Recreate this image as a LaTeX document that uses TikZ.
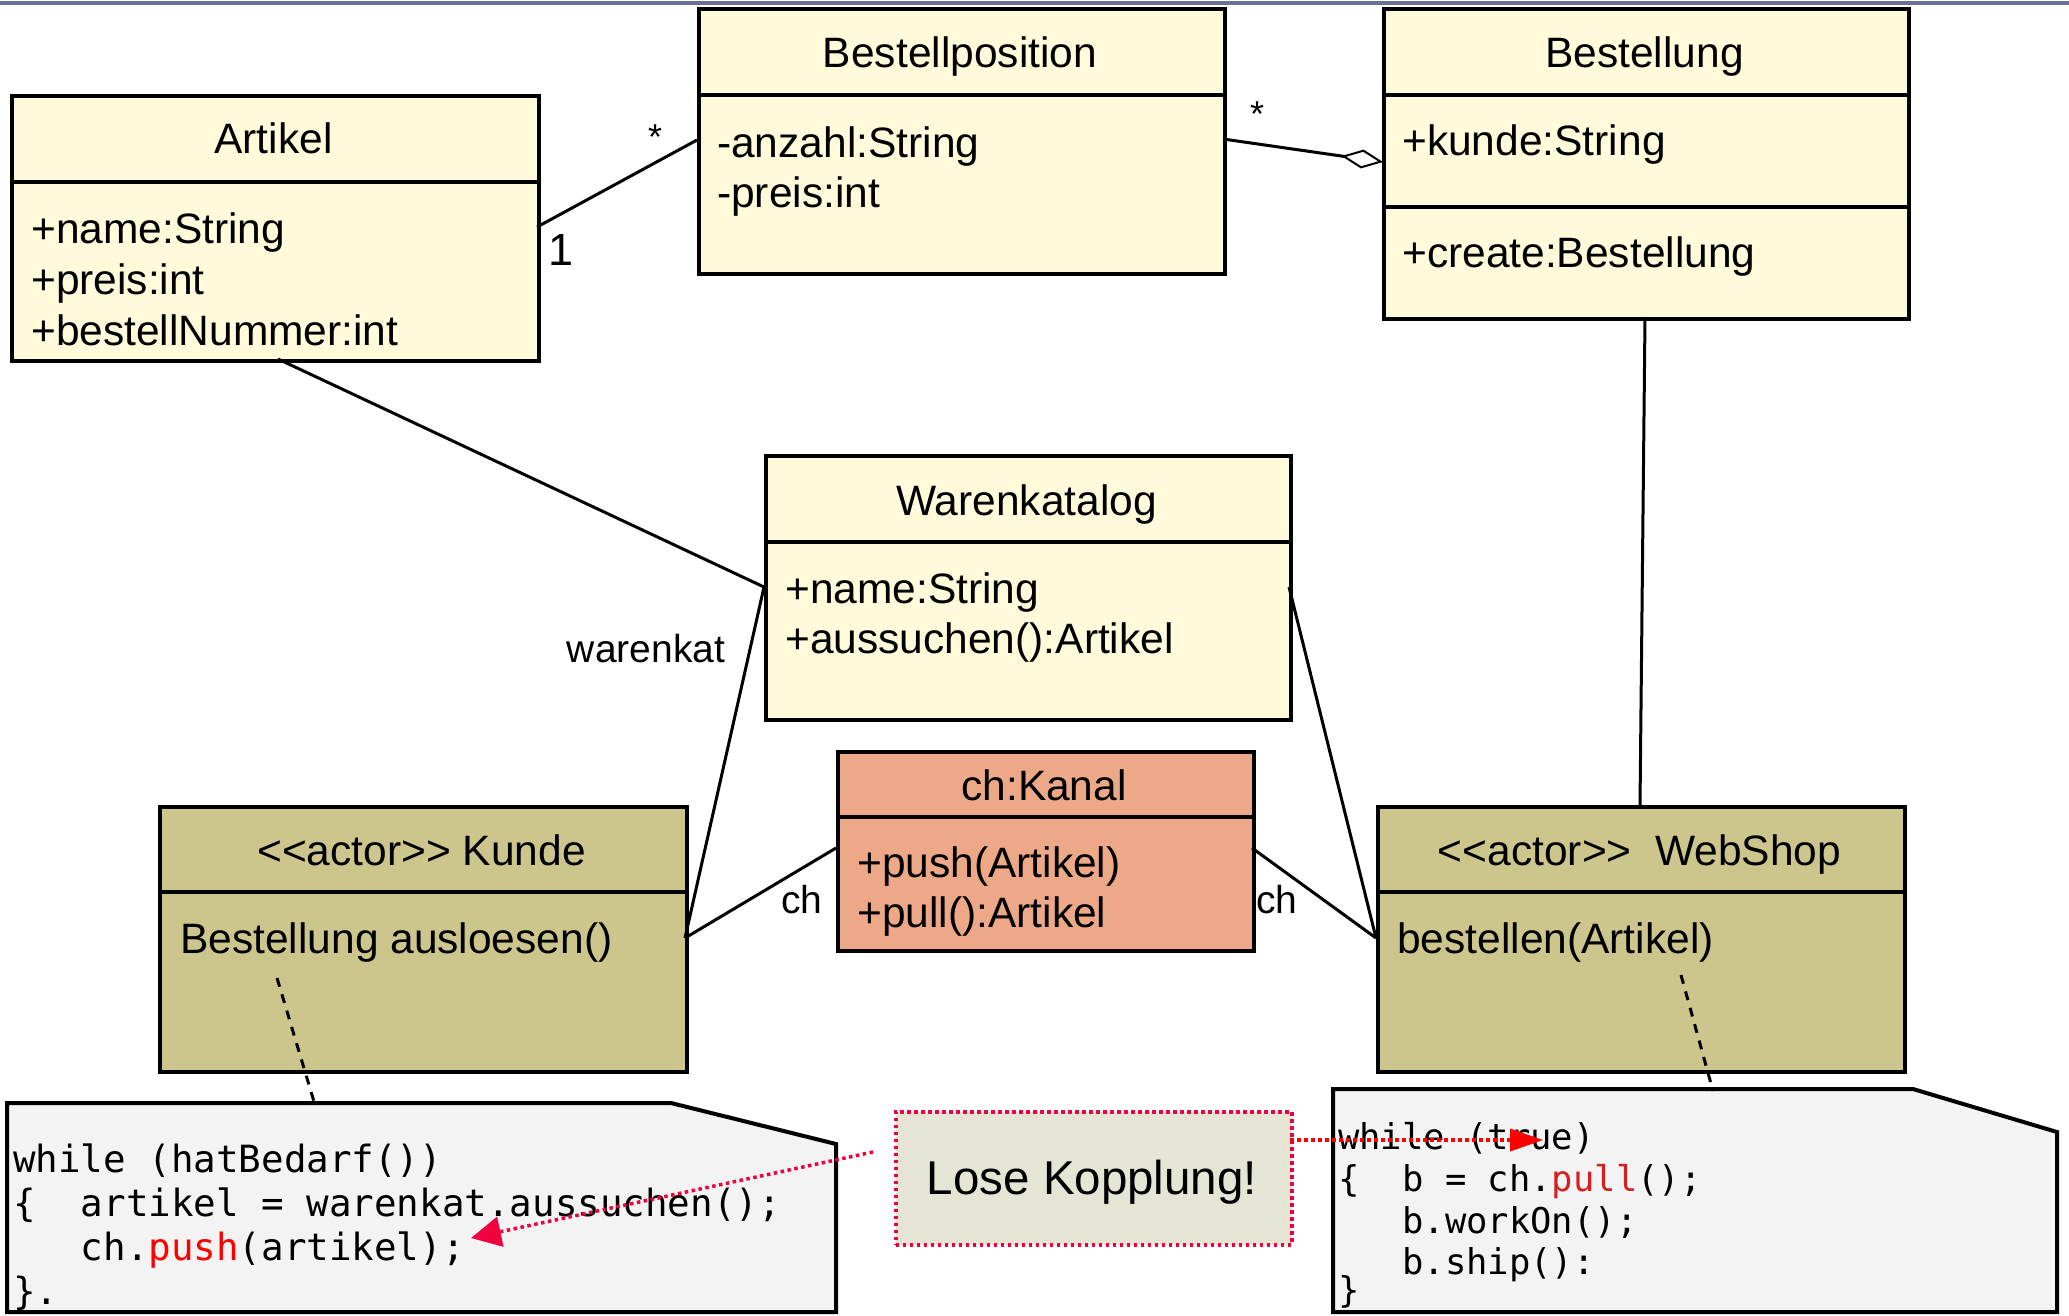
\documentclass[tikz,border=0pt]{standalone}
\usepackage{fontspec}
\newfontfamily\umlfont{Liberation Sans}
\newfontfamily\codefont{DejaVu Sans Mono}
\usetikzlibrary{arrows.meta}
\definecolor{classfill}{HTML}{FEFADA}
\definecolor{actorfill}{HTML}{CCC68D}
\definecolor{kanalfill}{HTML}{EDA987}
\definecolor{notefill}{HTML}{F3F3F3}
\definecolor{losefill}{HTML}{E6E4D5}
\definecolor{crimsonred}{HTML}{F0003C}
\definecolor{pullred}{HTML}{D42020}
\definecolor{topline}{HTML}{6B7193}
\tikzset{
  boxshape/.style={draw, line width=3.5pt, rectangle, inner sep=0pt, anchor=north west},
  classbox/.style={boxshape, fill=classfill},
  actorbox/.style={boxshape, fill=actorfill},
  kanalbox/.style={boxshape, fill=kanalfill},
  divider/.style={line width=3.5pt},
  conn/.style={line width=3pt},
  notelink/.style={line width=3pt, dash pattern=on 9pt off 8pt},
  notebox/.style={draw, line width=4pt, fill=notefill, line join=miter},
  hint/.style={line width=3.5pt, dash pattern=on 3.5pt off 3.5pt},
  ttl/.style={font=\umlfont\fontsize{42.5}{51}\selectfont, inner sep=0pt, anchor=base},
  attr/.style={font=\umlfont\fontsize{42.5}{51}\selectfont, inner sep=0pt, anchor=base west},
  lbl/.style={font=\umlfont\fontsize{39}{46}\selectfont, inner sep=0pt, anchor=base},
  codeL/.style={font=\codefont\fontsize{37.5}{44}\selectfont, inner sep=0pt, anchor=base west},
  codeR/.style={font=\codefont\fontsize{35.5}{42}\selectfont, inner sep=0pt, anchor=base west},
}
\begin{document}
\begin{tikzpicture}[x=1pt,y=-1pt]
\useasboundingbox (0,0) rectangle (2069,1315);
\fill[white] (0,0) rectangle (2069,1315);
\draw[topline, line width=4pt] (0,3) -- (2069,3);

% ---------- class boxes ----------
\node[classbox, minimum width=527pt, minimum height=265pt] (artikel) at (10,94) {};
\draw[divider] (10,182) -- (537,182);
\node[ttl] (artikelT) at (273.5,153) {Artikel};
\node[attr] (artikelA1) at (31,243) {+name:String};
\node[attr] (artikelA2) at (31,294) {+preis:int};
\node[attr] (artikelA3) at (31,345) {+bestellNummer:int};

\node[classbox, minimum width=526pt, minimum height=265pt] (bestpos) at (697,7) {};
\draw[divider] (697,95) -- (1223,95);
\node[ttl] (bestposT) at (960,67) {Bestellposition};
\node[attr] (bestposA1) at (717,157) {-anzahl:String};
\node[attr] (bestposA2) at (717,207) {-preis:int};

\node[classbox, minimum width=525pt, minimum height=310pt] (bestellung) at (1382,7) {};
\draw[divider] (1382,95) -- (1907,95);
\draw[divider] (1382,207) -- (1907,207);
\node[ttl] (bestellungT) at (1644.5,67) {Bestellung};
\node[attr] (bestellungA1) at (1402,155) {+kunde:String};
\node[attr] (bestellungA2) at (1402,267) {+create:Bestellung};

\node[classbox, minimum width=525pt, minimum height=264pt] (waren) at (764,454) {};
\draw[divider] (764,542) -- (1289,542);
\node[ttl] (warenT) at (1026.5,515) {Warenkatalog};
\node[attr] (warenA1) at (785,603) {+name:String};
\node[attr] (warenA2) at (785,653) {+aussuchen():Artikel};

\node[kanalbox, minimum width=416pt, minimum height=199pt] (kanal) at (836,750) {};
\draw[divider] (836,817) -- (1252,817);
\node[ttl] (kanalT) at (1044,800) {ch:Kanal};
\node[attr] (kanalA1) at (857,877) {+push(Artikel)};
\node[attr] (kanalA2) at (857,927) {+pull():Artikel};

\node[actorbox, minimum width=527pt, minimum height=265pt] (kunde) at (158,805) {};
\draw[divider] (158,892) -- (685,892);
\node[ttl] (kundeT) at (421.5,865) {<<actor>> Kunde};
\node[attr] (kundeA1) at (180,953) {Bestellung ausloesen()};

\node[actorbox, minimum width=527pt, minimum height=265pt] (webshop) at (1376,805) {};
\draw[divider] (1376,892) -- (1903,892);
\node[ttl] (webshopT) at (1639.5,865) {<<actor>>\ \ WebShop};
\node[attr] (webshopA1) at (1397,953) {bestellen(Artikel)};

% ---------- connector end points ----------
\coordinate (artE) at (537,227);
\coordinate (bpW) at (697,140);
\coordinate (bpE) at (1223,139);
\coordinate (bgW) at (1383,162);
\coordinate (artS) at (278,359);
\coordinate (wkW) at (764,587);
\coordinate (wkE) at (1289,587);
\coordinate (kuE) at (685,938);
\coordinate (wsW) at (1376,938);
\coordinate (kaW) at (836,848);
\coordinate (kaE) at (1252,848);
\coordinate (bgS) at (1645,317);
\coordinate (wsN) at (1640,805);

\draw[conn] (artE) -- (bpW);
\draw[conn, -{Diamond[open, length=42pt, width=19pt, line width=2pt]}] (bpE) -- (bgW);
\draw[conn] (artS) -- (wkW);
\draw[conn] (wkW) -- (kuE);
\draw[conn] (wkE) -- (wsW);
\draw[conn] (kaW) -- (kuE);
\draw[conn] (kaE) -- (wsW);
\draw[conn] (bgS) -- (wsN);

\node[font=\umlfont\fontsize{45}{52}\selectfont, inner sep=0pt, anchor=base] (one) at (561,265) {1};
\node[font=\umlfont\fontsize{36}{42}\selectfont, inner sep=0pt, anchor=base] (star1) at (655,149) {*};
\node[font=\umlfont\fontsize{36}{42}\selectfont, inner sep=0pt, anchor=base] (star2) at (1257,126) {*};
\node[lbl] (warenkatL) at (646,662) {warenkat};
\node[lbl] (chL) at (802,913) {ch};
\node[lbl] (chR) at (1277,913) {ch};

% ---------- notes ----------
\coordinate (noteLtop) at (315,1105);
\coordinate (noteRtop) at (1713,1091);
\coordinate (kundeAnchor) at (277,978);
\coordinate (webAnchor) at (1681,975);

\draw[notebox] (7,1103) -- (671,1103) -- (836,1144) -- (836,1312) -- (7,1312) -- cycle;
\draw[notebox] (1333,1089) -- (1913,1089) -- (2057,1132) -- (2057,1312) -- (1333,1312) -- cycle;

\draw[notelink] (kundeAnchor) -- (noteLtop);
\draw[notelink] (webAnchor) -- (noteRtop);

\node[codeL] (cl1) at (13,1172) {while\ (hatBedarf())};
\node[codeL] (cl2) at (13,1216) {\{\ \ artikel\ =\ warenkat.aussuchen();};
\node[codeL] (cl3) at (13,1260) {\ \ \ ch.\textcolor{red}{push}(artikel);};
\node[codeL] (cl4) at (13,1304) {\}.};

\node[codeR] (cr1) at (1338,1149) {while\ (true)};
\node[codeR] (cr2) at (1338,1191) {\{\ \ b\ =\ ch.\textcolor{pullred}{pull}();};
\node[codeR] (cr3) at (1338,1233) {\ \ \ b.workOn();};
\node[codeR] (cr4) at (1338,1274) {\ \ \ b.ship():};
\node[codeR] (cr5) at (1338,1302) {\}};

% ---------- Lose Kopplung ----------
\node[draw=crimsonred, hint, fill=losefill, minimum width=396pt, minimum height=133pt, inner sep=0pt, anchor=north west] (lose) at (894,1110) {};
\node[font=\umlfont\fontsize{47.5}{56}\selectfont, inner sep=0pt, anchor=base] (loseT) at (1092,1194) {Lose Kopplung!};

\coordinate (loseL) at (873,1152);
\coordinate (pushTip) at (471,1238);
\coordinate (loseR) at (1290,1140);
\coordinate (trueTip) at (1543,1140);
\draw[hint, crimsonred, -{Triangle[length=30pt, width=30pt]}] (loseL) -- (pushTip);
\draw[hint, red, -{Triangle[length=33pt, width=22pt]}] (loseR) -- (trueTip);
\end{tikzpicture}
\end{document}
